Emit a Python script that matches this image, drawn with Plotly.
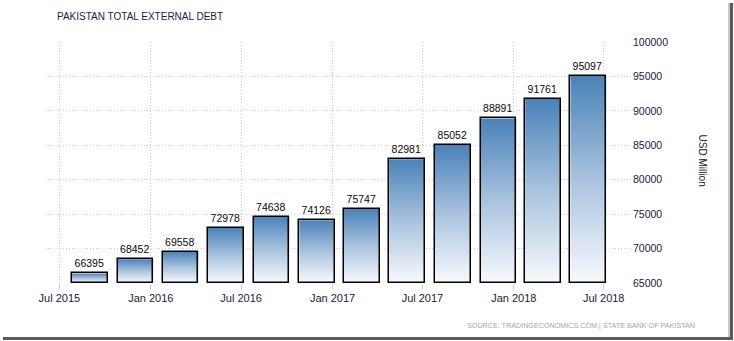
import pandas as pd
import plotly.graph_objects as go

# ---- data ----
quarters = ["2015-09-30", "2015-12-31", "2016-03-31", "2016-06-30",
            "2016-09-30", "2016-12-31", "2017-03-31", "2017-06-30",
            "2017-09-30", "2017-12-31", "2018-03-31", "2018-06-30"]
debt = [66395, 68452, 69558, 72978, 74638, 74126, 75747,
        82981, 85052, 88891, 91761, 95097]
tick_dates = ["2015-07-01", "2016-01-01", "2016-07-01", "2017-01-01",
              "2017-07-01", "2018-01-01", "2018-07-01"]
tick_labels = ["Jul 2015", "Jan 2016", "Jul 2016", "Jan 2017",
               "Jul 2017", "Jan 2018", "Jul 2018"]
y_ticks = [65000, 70000, 75000, 80000, 85000, 90000, 95000, 100000]

# ---- layout constants ----
W, H = 734, 341
L, R, T, B = 45, 632, 42, 283
BASE = 65000
DAY_MS = 86400000
OFF_DAYS, WIDTH_DAYS = -66, 72

def px_x(px):
    return (px - L) / (R - L)

def px_y(py):
    return (B - py) / (B - T)

dates = pd.to_datetime(quarters)
fig = go.Figure()

# gradient fills (one polygon per bar, built from the data)
for d, v in zip(dates, debt):
    x0 = d + pd.Timedelta(days=OFF_DAYS)
    x1 = x0 + pd.Timedelta(days=WIDTH_DAYS)
    fig.add_trace(go.Scatter(
        x=[x0, x1, x1, x0, x0], y=[BASE, BASE, v, v, BASE],
        mode="lines", fill="toself", line=dict(width=0, color="rgba(0,0,0,0)"),
        fillgradient=dict(type="vertical",
                          colorscale=[[0, "#f7fafd"], [0.5, "#a9c3de"], [1, "#4a82b8"]]),
        hoverinfo="skip", showlegend=False, xaxis="x", yaxis="y"))

# bar outlines + value labels (overlay axis so they sit on top of the fills)
fig.add_trace(go.Bar(
    x=dates, y=[v - BASE for v in debt], base=BASE,
    offset=OFF_DAYS * DAY_MS, width=WIDTH_DAYS * DAY_MS,
    marker=dict(color="rgba(0,0,0,0)", line=dict(color="#000000", width=1.5)),
    text=[str(v) for v in debt], textposition="outside",
    textfont=dict(family="Liberation Sans", size=10.5, color="#0a0a0a"),
    cliponaxis=False, showlegend=False, xaxis="x2", yaxis="y"))

xrange = [pd.Timestamp("2015-06-02"), pd.Timestamp("2018-08-27")]
fig.update_layout(
    width=W, height=H,
    margin=dict(l=L, r=W - R, t=T, b=H - B, pad=0),
    paper_bgcolor="white", plot_bgcolor="white",
    font=dict(family="Liberation Sans", size=11, color="#1e1e46"),
    xaxis=dict(type="date", range=xrange, tickvals=pd.to_datetime(tick_dates),
               ticktext=tick_labels, showgrid=True, gridcolor="#cccccc",
               griddash="1px,2px", gridwidth=1, ticks="outside", ticklen=5,
               tickcolor="#cccccc", showline=False, zeroline=False,
               tickfont=dict(size=11, color="#1a1a40")),
    xaxis2=dict(type="date", range=xrange, overlaying="x", matches="x",
                visible=False),
    yaxis=dict(range=[65000, 100000], side="right", tickvals=y_ticks,
               tickformat="d",
               showgrid=True, gridcolor="#cccccc", griddash="1px,2px", gridwidth=1,
               zeroline=False, showline=False, ticks="",
               tickfont=dict(size=10.5, color="#1a1a40")),
    bargap=0,
)

fig.add_annotation(text="PAKISTAN TOTAL EXTERNAL DEBT", xref="paper", yref="paper",
                   x=px_x(55), y=px_y(17), xanchor="left", yanchor="middle",
                   showarrow=False, font=dict(size=10, color="#1c1b4d"))
fig.add_annotation(text="USD Million", xref="paper", yref="paper",
                   x=px_x(710), y=px_y(160), textangle=90, showarrow=False,
                   font=dict(size=10, color="#222222"))
fig.add_annotation(text="SOURCE: TRADINGECONOMICS.COM <span style='color:#e0a060'>|</span> STATE BANK OF PAKISTAN",
                   xref="paper", yref="paper", x=px_x(697), y=px_y(325),
                   xanchor="right", yanchor="middle", showarrow=False,
                   font=dict(size=7.2, color="#a8a49c"))

# window frame shadow
fig.add_shape(type="rect", xref="paper", yref="paper", layer="above",
              x0=px_x(730), x1=px_x(733), y0=px_y(340), y1=px_y(3),
              fillcolor="#5a5a5a", line=dict(width=0))
fig.add_shape(type="rect", xref="paper", yref="paper", layer="above",
              x0=px_x(3), x1=px_x(733), y0=px_y(340), y1=px_y(337),
              fillcolor="#5a5a5a", line=dict(width=0))
fig.add_shape(type="rect", xref="paper", yref="paper", layer="above",
              x0=px_x(728), x1=px_x(730), y0=px_y(337), y1=px_y(3),
              fillcolor="#c8c8c8", line=dict(width=0))

fig.write_html("out.html")
